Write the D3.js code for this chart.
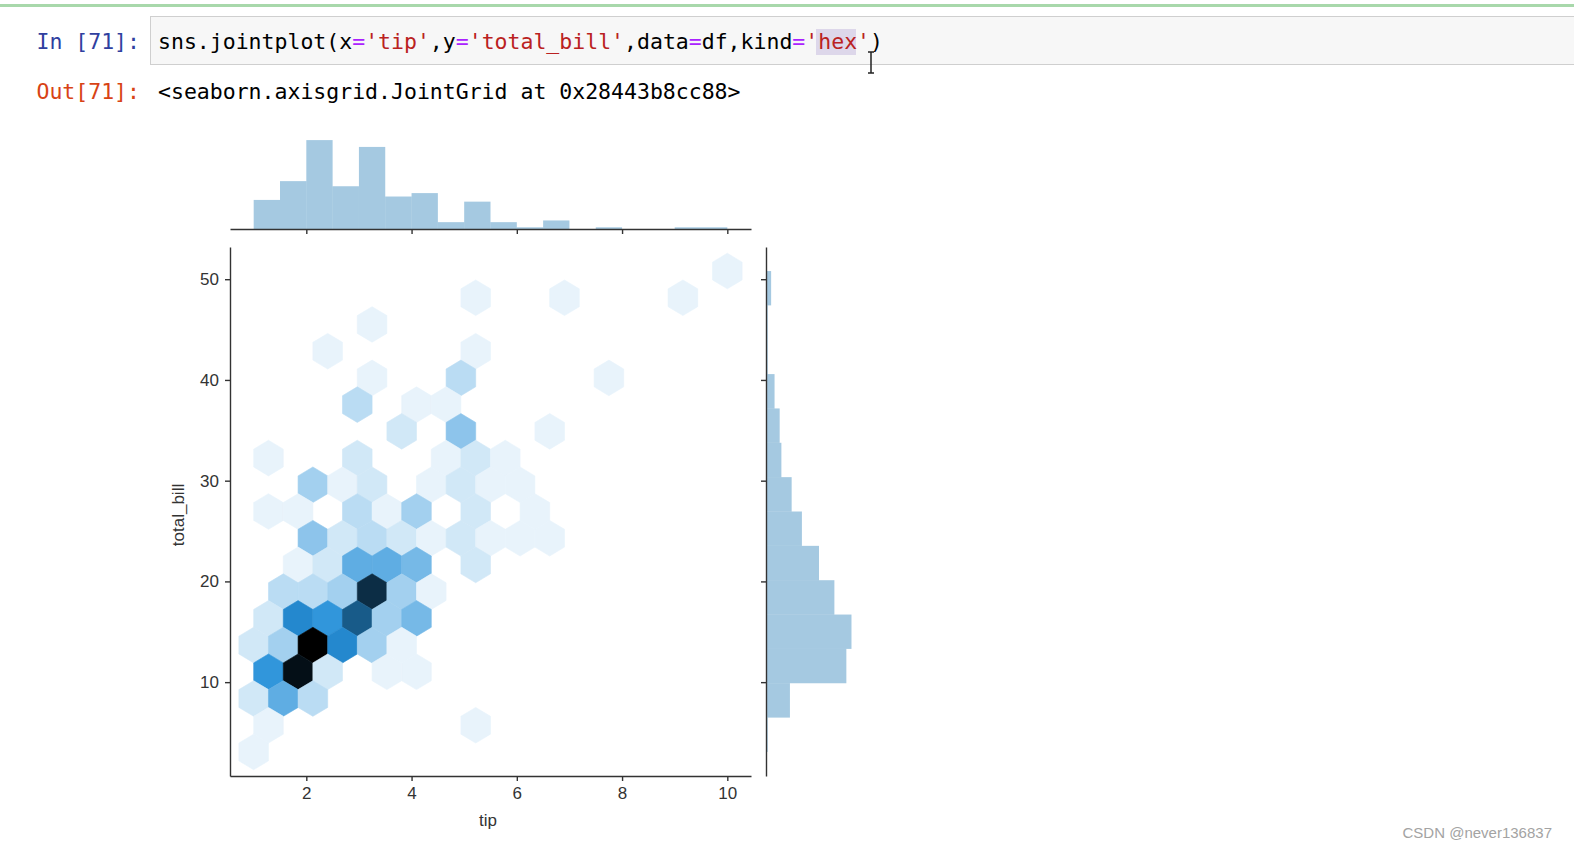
<!DOCTYPE html>
<html>
<head>
<meta charset="utf-8">
<script src="https://cdn.jsdelivr.net/npm/d3@7"></script>
<style>
  body { margin: 0; background: #fff; }
  svg text { font-family: "Liberation Sans", Arial, sans-serif; }
  .mono { font-family: "DejaVu Sans Mono", "Liberation Mono", monospace !important; font-size: 21.5px; }
  .axis path, .axis line { stroke: #333; stroke-width: 1.4; }
  .axis text { fill: #333; font-size: 17px; }
</style>
</head>
<body>
<svg id="page" width="1574" height="851"></svg>
<script>
// marginal histograms: tip has 18 bins over [1, 10], total_bill 14 bins over [3.07, 50.81]
var tipExtent = [1.0, 10.0];
var tipCounts = [17, 28, 52, 25, 48, 19, 21, 4, 16, 4, 1, 5, 0, 1, 0, 0, 1, 1];
var billExtent = [3.07, 50.81];
var billCounts = [1, 14, 47, 50, 40, 31, 21, 15, 9, 8, 5, 1, 1, 3];

// hexbin cells (gridsize 16). col / row count half steps of the hex lattice
var hexCol = [32, 15, 21, 29, 8, 5, 15, 8, 14, 24, 7, 11, 13, 10, 14, 20,
  1, 7, 13, 15, 17, 4, 6, 8, 12, 14, 16, 18, 1, 3, 7, 9, 11, 15, 19,
  4, 6, 8, 10, 12, 14, 16, 18, 20, 3, 5, 7, 9, 11, 15, 2, 4, 6, 8, 10, 12,
  1, 3, 5, 7, 9, 11, 0, 2, 4, 6, 8, 10, 1, 3, 5, 9, 11, 0, 2, 4, 1, 15, 0];
var hexRow = [18, 17, 17, 17, 16, 15, 15, 14, 14, 14, 13, 13, 13, 12, 12, 12,
  11, 11, 11, 11, 11, 10, 10, 10, 10, 10, 10, 10, 9, 9, 9, 9, 9, 9, 9,
  8, 8, 8, 8, 8, 8, 8, 8, 8, 7, 7, 7, 7, 7, 7, 6, 6, 6, 6, 6, 6,
  5, 5, 5, 5, 5, 5, 4, 4, 4, 4, 4, 4, 3, 3, 3, 3, 3, 2, 2, 2, 1, 1, 0];
var hexCount = [2, 2, 2, 2, 2, 2, 2, 2, 4, 2, 4, 2, 2, 3, 6, 2,
  2, 3, 2, 3, 2, 5, 2, 3, 2, 3, 2, 2, 2, 2, 4, 2, 5, 3, 2,
  6, 3, 4, 3, 2, 3, 2, 2, 2, 2, 3, 8, 8, 7, 3, 4, 4, 5, 17, 5, 2,
  3, 11, 10, 14, 5, 7, 3, 5, 20, 11, 5, 2, 10, 19, 3, 2, 2, 3, 8, 4, 2, 2, 2];

var xTicks = [2, 4, 6, 8, 10];
var yTicks = [10, 20, 30, 40, 50];

var svg = d3.select("#page");

// ---- notebook chrome ----
svg.append("rect").attr("x", 0).attr("y", 4).attr("width", 1574).attr("height", 3).attr("fill", "#a8d8ab");
svg.append("rect").attr("x", 150.5).attr("y", 16.5).attr("width", 1430).attr("height", 48)
  .attr("fill", "#f7f7f7").attr("stroke", "#cfcfcf");
svg.append("rect").attr("x", 816).attr("y", 29).attr("width", 40).attr("height", 26).attr("fill", "#ddd7ea");

svg.append("text").attr("class", "mono").attr("x", 140).attr("y", 49).attr("text-anchor", "end")
  .attr("fill", "#303f9f").text("In [71]:");
svg.append("text").attr("class", "mono").attr("x", 140).attr("y", 99).attr("text-anchor", "end")
  .attr("fill", "#d84315").text("Out[71]:");

var codeParts = [
  ["sns.jointplot(x", "#000"], ["=", "#aa22ff"], ["'tip'", "#ba2121"], [",y", "#000"],
  ["=", "#aa22ff"], ["'total_bill'", "#ba2121"], [",data", "#000"], ["=", "#aa22ff"],
  ["df,kind", "#000"], ["=", "#aa22ff"], ["'hex'", "#ba2121"], [")", "#000"]
];
svg.append("text").attr("class", "mono").attr("x", 158).attr("y", 49)
  .selectAll("tspan").data(codeParts).enter().append("tspan")
  .attr("fill", function(d) { return d[1]; })
  .text(function(d) { return d[0]; });
svg.append("text").attr("class", "mono").attr("x", 158).attr("y", 99).attr("fill", "#000")
  .text("<seaborn.axisgrid.JointGrid at 0x28443b8cc88>");

// text cursor
svg.append("path").attr("d", "M868,52H874M871,52V73M868,73H874")
  .attr("stroke", "#222").attr("stroke-width", 1.5).attr("fill", "none");

// ---- scales ----
var x = d3.scaleLinear().domain([0.55, 10.45]).range([230, 751]);
var y = d3.scaleLinear().domain([0.683, 53.197]).range([776, 247]);
var margTop = d3.scaleLinear().domain([0, 62]).range([229, 123]);
var margRight = d3.scaleLinear().domain([0, 62]).range([766, 872]);

// hex lattice like matplotlib hexbin
var nx = 16, ny = Math.floor(nx / Math.sqrt(3));
var sx = (tipExtent[1] - tipExtent[0]) / nx;
var sy = (billExtent[1] - billExtent[0]) / ny;
var cells = hexCol.map(function(c, i) {
  return {tip: tipExtent[0] + c * sx / 2, bill: billExtent[0] + hexRow[i] * sy / 2, n: hexCount[i]};
});
var shade = d3.scaleLinear().domain([1, d3.max(hexCount)]).range([1, 0]);
function hexColor(n) { return d3.hsl(204.6, 0.705, shade(n)).toString(); }
var hexPts = [[0.5, -0.5], [0.5, 0.5], [0, 1], [-0.5, 0.5], [-0.5, -0.5], [0, -1]];
function hexPath(d) {
  return "M" + hexPts.map(function(p) {
    return x(d.tip + p[0] * sx) + "," + y(d.bill + p[1] * sy / 3);
  }).join("L") + "Z";
}

svg.append("g").selectAll("path").data(cells).enter().append("path")
  .attr("d", hexPath)
  .attr("fill", function(d) { return hexColor(d.n); })
  .attr("stroke", function(d) { return hexColor(d.n); })
  .attr("stroke-width", 0.6);

// ---- marginal histograms ----
var tipW = (tipExtent[1] - tipExtent[0]) / tipCounts.length;
svg.append("g").selectAll("rect").data(tipCounts).enter().append("rect")
  .attr("x", function(d, i) { return x(tipExtent[0] + i * tipW); })
  .attr("width", x(tipW) - x(0))
  .attr("y", function(d) { return margTop(d); })
  .attr("height", function(d) { return margTop(0) - margTop(d); })
  .attr("fill", "#1f77b4").attr("fill-opacity", 0.4);

var billW = (billExtent[1] - billExtent[0]) / billCounts.length;
svg.append("g").selectAll("rect").data(billCounts).enter().append("rect")
  .attr("y", function(d, i) { return y(billExtent[0] + (i + 1) * billW); })
  .attr("height", y(0) - y(billW))
  .attr("x", margRight(0))
  .attr("width", function(d) { return margRight(d) - margRight(0); })
  .attr("fill", "#1f77b4").attr("fill-opacity", 0.4);

// ---- axes ----
svg.append("g").attr("class", "axis").attr("transform", "translate(0,776)")
  .call(d3.axisBottom(x).tickValues(xTicks).tickSize(5).tickPadding(6).tickSizeOuter(0));
svg.append("g").attr("class", "axis").attr("transform", "translate(230,0)")
  .call(d3.axisLeft(y).tickValues(yTicks).tickSize(5).tickPadding(6).tickSizeOuter(0));
svg.append("g").attr("class", "axis").attr("transform", "translate(0,229)")
  .call(d3.axisBottom(x).tickValues(xTicks).tickSize(5).tickFormat("").tickSizeOuter(0));
svg.append("g").attr("class", "axis").attr("transform", "translate(766,0)")
  .call(d3.axisLeft(y).tickValues(yTicks).tickSize(5).tickFormat("").tickSizeOuter(0));
svg.selectAll(".axis text").attr("font-family", "Liberation Sans, Arial, sans-serif");

svg.append("text").attr("x", 488).attr("y", 826).attr("text-anchor", "middle")
  .attr("fill", "#333").attr("font-size", 17).text("tip");
svg.append("text").attr("transform", "translate(184,515) rotate(-90)").attr("text-anchor", "middle")
  .attr("fill", "#333").attr("font-size", 17).text("total_bill");

// watermark
svg.append("text").attr("x", 1552).attr("y", 838).attr("text-anchor", "end")
  .attr("fill", "#a3a3a3").attr("font-size", 15).text("CSDN @never136837");
</script>
</body>
</html>
